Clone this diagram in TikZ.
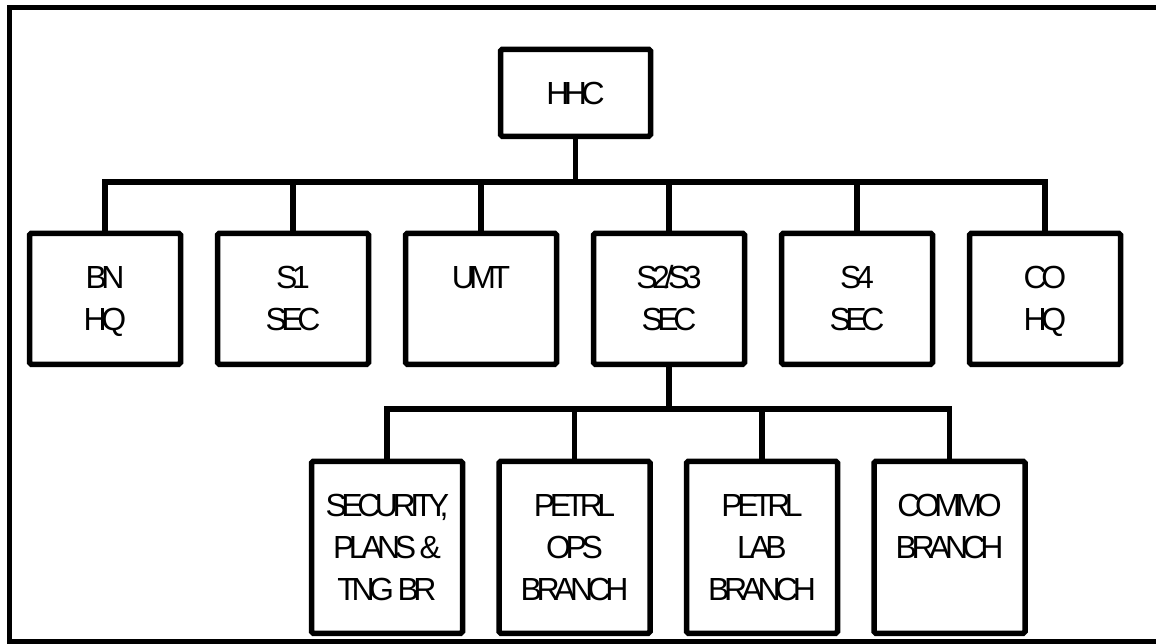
\documentclass[tikz,border=0pt]{standalone}
\usepackage{fontspec}
\usepackage{tikz}
\newfontfamily\chartfont{Liberation Sans}[LetterSpace=-17]
% Text lines hung from the top of a box, baseline at the first line.
\newcommand{\boxlines}[1]{\begin{tabular}[t]{@{}c@{}}#1\end{tabular}}

\begin{document}
\begin{tikzpicture}[font=\chartfont\fontsize{18.2}{23.9}\selectfont,
 wire/.style={line width=0.11cm,draw=black},
 box/.style={draw=black,line width=0.11cm,rounded corners=1pt,anchor=north,
   inner sep=0pt,minimum width=3.02cm,text height=1.1cm},
 rowone/.style={box,text depth=1.52cm},
 rowtwo/.style={box,text depth=2.34cm}]
\useasboundingbox (0,0) rectangle (23.12,12.86);
% Page frame, open on the right.
\draw[line width=0.1cm] (23.3,12.71) -- (0.19,12.71) -- (0.19,0.03) -- (23.3,0.03);

\node[box,minimum width=3.0cm,text depth=0.64cm] (hhc) at (11.51,11.93) {HHC};

\node[rowone] (bnhq) at (2.10,8.25) {\boxlines{BN\\HQ}};
\node[rowone] (s1) at (5.86,8.25) {\boxlines{S1\\SEC}};
\node[rowone] (umt) at (9.62,8.25) {\boxlines{UMT}};
\node[rowone] (s23) at (13.38,8.25) {\boxlines{S2/S3\\SEC}};
\node[rowone] (s4) at (17.14,8.25) {\boxlines{S4\\SEC}};
\node[rowone] (cohq) at (20.90,8.25) {\boxlines{CO\\HQ}};

\node[rowtwo] (secplans) at (7.74,3.69) {\boxlines{SECURITY,\\PLANS \&\\TNG BR}};
\node[rowtwo] (petops) at (11.49,3.69) {\boxlines{PETRL\\OPS\\BRANCH}};
\node[rowtwo] (petlab) at (15.24,3.69) {\boxlines{PETRL\\LAB\\BRANCH}};
\node[rowtwo] (commo) at (18.99,3.69) {\boxlines{COMMO\\BRANCH}};

\coordinate (busone) at (11.51,9.22);
\coordinate (bustwo) at (13.38,4.68);

\draw[wire] (hhc.south) -- (busone);
\draw[wire] (bnhq.north) |- (busone) -| (cohq.north);
\foreach \n in {s1,umt,s23,s4}
  \draw[wire] (\n.north) -- (\n.north |- busone);

\draw[wire] (s23.south) -- (bustwo);
\draw[wire] (secplans.north) |- (bustwo) -| (commo.north);
\foreach \n in {petops,petlab}
  \draw[wire] (\n.north) -- (\n.north |- bustwo);
\end{tikzpicture}
\end{document}
